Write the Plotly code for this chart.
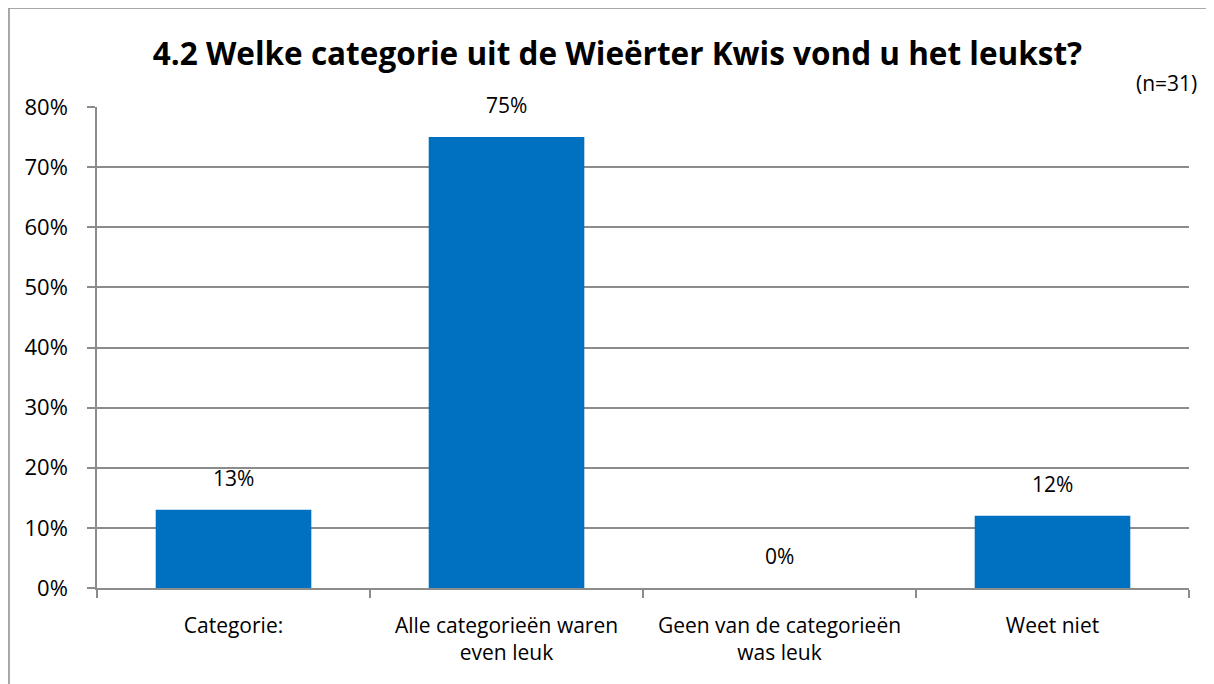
import plotly.graph_objects as go

categories = [
    "Categorie:",
    "Alle categorieën waren<br>even leuk",
    "Geen van de categorieën<br>was leuk",
    "Weet niet",
]
shares = [0.13, 0.75, 0.0, 0.12]
labels = ["13%", "75%", "0%", "12%"]

FONT = "Open Sans, Calibri, Carlito, sans-serif"
GRID = "#8c8c8c"

fig = go.Figure()
fig.add_bar(
    x=categories, y=shares,
    marker_color="#0070c0", marker_line_width=0,
    width=0.57,
)

# data labels sit a bit above the bars, like the Excel original
label_notes = [
    dict(
        x=c, y=v, text=t, xref="x", yref="y",
        yanchor="bottom", yshift=16, showarrow=False,
        font=dict(size=21, color="black", family=FONT),
    )
    for c, v, t in zip(categories, shares, labels)
]

fig.update_layout(
    width=1214, height=684,
    margin=dict(l=89, r=33, t=99, b=104),
    paper_bgcolor="white", plot_bgcolor="white",
    font=dict(family=FONT, size=21, color="black"),
    showlegend=False,
    title=dict(
        text="<b>4.2 Welke categorie uit de Wieërter Kwis vond u het leukst?</b>",
        x=0.502, xanchor="center", y=0.933, yanchor="middle",
        font=dict(size=31.5, color="black", family=FONT),
    ),
    shapes=[dict(
        type="rect", xref="paper", yref="paper",
        x0=-0.0806, x1=1.1, y0=-0.3, y1=1.2058,
        line=dict(color="#8c8c8c", width=1.5),
    )],
    annotations=label_notes + [dict(
        text="(n=31)", xref="paper", yref="paper",
        x=1.0092, y=1.05, xanchor="right", yanchor="middle",
        showarrow=False, font=dict(size=21, color="black", family=FONT),
    )],
)
fig.update_yaxes(
    range=[0, 0.8], dtick=0.1, tickformat=".0%",
    showgrid=True, gridcolor=GRID, gridwidth=1.5,
    showline=True, linecolor=GRID, linewidth=1.5,
    ticks="outside", ticklen=8, tickcolor=GRID, tickwidth=1.5,
    ticklabelstandoff=15, tickfont=dict(size=22),
    zeroline=False, fixedrange=True,
)
fig.update_xaxes(
    showline=True, linecolor=GRID, linewidth=1.5,
    ticks="outside", ticklen=8, tickcolor=GRID, tickwidth=1.5,
    tickson="boundaries", showgrid=False, fixedrange=True,
    ticklabelstandoff=18,
)
fig.write_html("out.html")
